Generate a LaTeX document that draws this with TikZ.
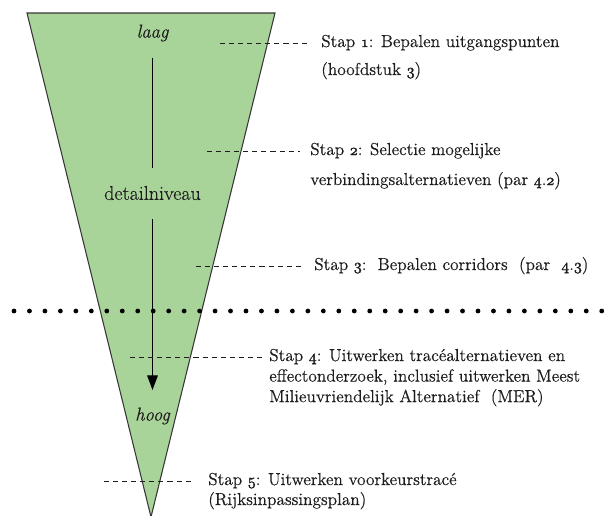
\documentclass[tikz,border=0pt]{standalone}
\usepackage{fontspec}
\setmainfont{Latin Modern Roman}[FakeBold=0.35]
\usepackage{tikz}
\usetikzlibrary{arrows,arrows.meta}
\usetikzlibrary{positioning}

\definecolor{trechtergroen}{RGB}{168,212,154}
\definecolor{randgrijs}{RGB}{55,55,55}
\definecolor{tekstgrijs}{RGB}{30,28,28}

% oude cijfers, iets vetter gezet
\newcommand{\osn}[1]{{\special{pdf:literal direct 2 Tr 0.25 w}\fontencoding{OML}\fontfamily{cmm}\fontseries{m}\fontshape{it}\selectfont #1\special{pdf:literal direct 0 Tr}}}

\tikzset{
  stap/.style={anchor=west, inner sep=0pt, text height=9pt, text depth=3pt,
    font=\fontsize{13}{15}\selectfont, text=tekstgrijs},
  niveau/.style={inner sep=0pt, font=\fontsize{14}{16}\selectfont, text=tekstgrijs},
  streep/.style={draw=tekstgrijs, line width=0.7pt, dash pattern=on 3.8pt off 3pt},
  stippel/.style={draw=black, line width=3.6pt, line cap=round, dash pattern=on 0pt off 11.6pt}
}

\begin{document}
\begin{tikzpicture}[x=0.75pt, y=-0.75pt]
        \useasboundingbox (0,0) rectangle (615,515);

        % trechter
        \filldraw[fill=trechtergroen, draw=randgrijs, line width=0.8pt] (27,13) -- (275,13) -- (151,517) -- cycle;

        \node[niveau] (laag) at (152.5,33) {\itshape laag};
        \node[niveau, font=\fontsize{15}{17}\selectfont] (detail) at (152.5,193) {detailniveau};
        \node[niveau] (hoog) at (152.5,416) {\itshape hoog};

        \path [draw=black, line width=0.75pt, shorten <=12pt, shorten >=13pt] (laag) -- (detail);
        \path [draw=black, line width=0.75pt, shorten <=14pt, shorten >=13pt, -{Triangle[length=11pt,width=8pt]}] (detail) -- (hoog);

        \draw[stippel] (14,311) -- (603,311);

        % stappen
        \coordinate (d1) at (220,43);
        \coordinate (d2) at (207,151);
        \coordinate (d3) at (196,266);
        \coordinate (d4) at (130,357);
        \coordinate (d5) at (104,481);

        \node[stap] (stap1) at (321,43) {Stap \osn{1}: Bepalen uitgangspunten};
        \node[stap, below=21pt of stap1.west, anchor=west] (stap1b) {(hoofdstuk \osn{3})};

        \node[stap] (stap2) at (310,151) {Stap \osn{2}: Selectie mogelijke};
        \node[stap, below=22.5pt of stap2.west, anchor=west] (stap2b) {verbindingsalternatieven (par \osn{4}.\osn{2})};

        \node[stap] (stap3) at (314,266) {Stap \osn{3}:\ \ Bepalen corridors\ \ (par\ \ \osn{4}.\osn{3})};

        \node[stap] (stap4) at (269,357) {Stap \osn{4}: Uitwerken tracéalternatieven en};
        \node[stap, below=15.4pt of stap4.west, anchor=west] (stap4b) {effectonderzoek, inclusief uitwerken Meest};
        \node[stap, below=15.4pt of stap4b.west, anchor=west] (stap4c) {Milieuvriendelijk Alternatief\ \ (MER)};

        \node[stap] (stap5) at (208,481) {Stap \osn{5}: Uitwerken voorkeurstracé};
        \node[stap, below=15pt of stap5.west, anchor=west] (stap5b) {(Rijksinpassingsplan)};

        \path [streep, shorten >=10.5pt] (d1) edge (stap1.west);
        \path [streep, shorten >=7.5pt] (d2) edge (stap2.west);
        \path [streep, shorten >=9pt] (d3) edge (stap3.west);
        \path [streep, shorten >=5.2pt] (d4) edge (stap4.west);
        \path [streep, shorten >=11.2pt] (d5) edge (stap5.west);

      \end{tikzpicture}
\end{document}
